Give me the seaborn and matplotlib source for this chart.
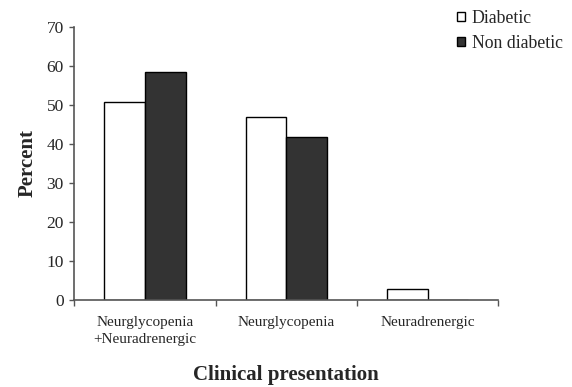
import matplotlib
matplotlib.use("Agg")
import matplotlib.pyplot as plt
import pandas as pd
import seaborn as sb

categories = ["Neurglycopenia\n+Neuradrenergic", "Neurglycopenia", "Neuradrenergic"]
groups = ["Diabetic", "Non diabetic"]
diabetic = [50.7, 46.8, 2.7]
non_diabetic = [58.3, 41.7, 0.0]

df = pd.DataFrame({
    "category": categories * 2,
    "group": [groups[0]] * 3 + [groups[1]] * 3,
    "percent": diabetic + non_diabetic,
})

sb.set_theme(style="ticks")
plt.rcParams["font.family"] = ["Liberation Serif", "DejaVu Serif"]

fig = plt.figure(figsize=(5.72, 3.87), dpi=100)
ax = fig.add_axes([0.130, 0.226, 0.741, 0.705])

sb.barplot(
    data=df, x="category", y="percent", hue="group",
    order=categories, hue_order=groups,
    palette={"Diabetic": "white", "Non diabetic": "#333333"},
    edgecolor="black", linewidth=1.0, width=0.574, gap=0, ax=ax,
)

ax.set_xlim(-0.5, 2.5)
ax.set_ylim(0, 70)
ax.set_yticks(range(0, 71, 10))
ax.tick_params(axis="y", labelsize=12.5, length=3.6, width=1, color="#555555", pad=4)
ax.set_xticks([-0.5, 0.5, 1.5, 2.5], minor=True)
ax.tick_params(axis="x", which="minor", length=4, width=1, color="#555555")
ax.tick_params(axis="x", which="major", length=0, labelsize=11, pad=11.5)
for lbl in ax.get_xticklabels():
    lbl.set_linespacing(1.45)
for s in ["top", "right"]:
    ax.spines[s].set_visible(False)
for s in ["left", "bottom"]:
    ax.spines[s].set_color("#555555")
    ax.spines[s].set_linewidth(1.2)

ax.set_ylabel("Percent", fontsize=15, fontweight="bold", va="center")
ax.set_xlabel("Clinical presentation", fontsize=15, fontweight="bold", va="center")
ax.yaxis.set_label_coords(-0.110, 0.5)
ax.xaxis.set_label_coords(0.5, -0.276)

ax.legend(
    loc="upper left", bbox_to_anchor=(0.781, 1.0), bbox_transform=fig.transFigure,
    frameon=False, fontsize=12.8, handlelength=0.45, handleheight=0.45,
    handletextpad=0.4, labelspacing=0.45, borderaxespad=0.15,
)

fig.savefig("out.png", dpi=100)
